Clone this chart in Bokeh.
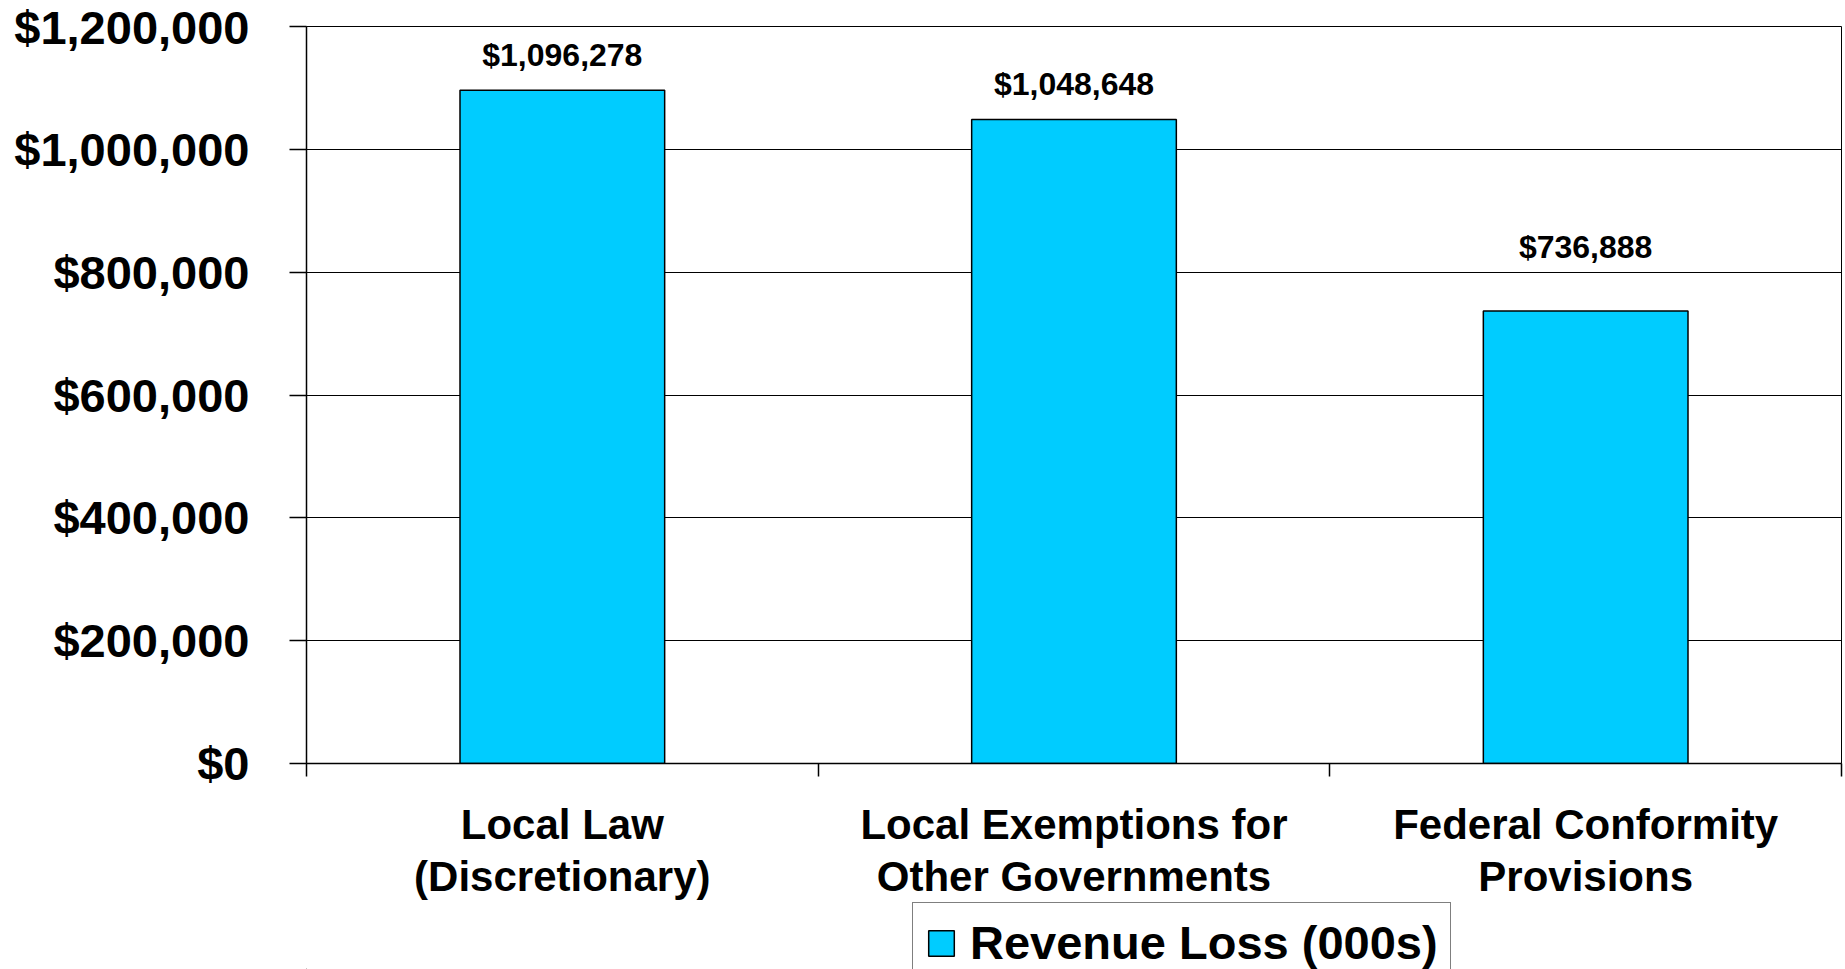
from bokeh.plotting import figure
from bokeh.layouts import column
from bokeh.models import ColumnDataSource, FixedTicker, Legend, LegendItem, Range1d
from bokeh.embed import file_html
from bokeh.resources import INLINE
from bokeh.core.properties import value

categories = ["Local Law\n(Discretionary)", "Local Exemptions for\nOther Governments", "Federal Conformity\nProvisions"]
revenue_loss = [1096278, 1048648, 736888]
value_labels = ["$1,096,278", "$1,048,648", "$736,888"]
label_offsets = [-35, -35, -64]
y_ticks = [0, 200000, 400000, 600000, 800000, 1000000, 1200000]
y_tick_labels = ["$0", "$200,000", "$400,000", "$600,000", "$800,000", "$1,000,000", "$1,200,000"]
series_name = "Revenue Loss (000s)"

FONT = "Liberation Sans"
BAR_COLOR = "#00CCFF"

xs = [i + 0.5 for i in range(len(categories))]
src = ColumnDataSource(dict(x=xs, top=revenue_loss, label=value_labels, off=label_offsets))

p = figure(width=1845, height=902, output_backend="svg", toolbar_location=None,
           x_range=Range1d(0, len(categories)), y_range=Range1d(0, 1200000),
           min_border_left=306, min_border_right=4, min_border_top=26, min_border_bottom=136)
p.background_fill_color = "white"
p.border_fill_color = "white"
p.outline_line_color = "black"
p.outline_line_width = 1

bars = p.vbar(x="x", top="top", width=0.4, bottom=0, source=src,
              fill_color=BAR_COLOR, line_color="black", line_width=1.5)

p.text(x="x", y="top", text="label", source=src, y_offset="off",
       text_align="center", text_baseline="middle",
       text_font=value(FONT), text_font_style="bold", text_font_size="32px", text_color="black")

# y axis
p.yaxis.ticker = FixedTicker(ticks=y_ticks)
p.yaxis.major_label_overrides = {t: l for t, l in zip(y_ticks, y_tick_labels)}
p.yaxis.major_label_text_font = FONT
p.yaxis.major_label_text_font_style = "bold"
p.yaxis.major_label_text_font_size = "47px"
p.yaxis.major_label_text_color = "black"
p.yaxis.major_label_standoff = 40
p.yaxis.major_tick_out = 17
p.yaxis.major_tick_in = 0
p.yaxis.minor_tick_line_color = None
p.yaxis.axis_line_color = "black"
p.yaxis.axis_line_width = 1.5
p.yaxis.major_tick_line_width = 1.5

# x axis
p.xaxis.ticker = FixedTicker(ticks=xs, minor_ticks=list(range(len(categories) + 1)))
p.xaxis.major_label_overrides = {x: c for x, c in zip(xs, categories)}
p.xaxis.major_label_text_font = FONT
p.xaxis.major_label_text_font_style = "bold"
p.xaxis.major_label_text_font_size = "42px"
p.xaxis.major_label_text_color = "black"
p.xaxis.major_label_text_line_height = 1.11
p.xaxis.major_label_standoff = 24
p.xaxis.major_tick_out = 0
p.xaxis.major_tick_in = 0
p.xaxis.minor_tick_out = 13
p.xaxis.minor_tick_in = 0
p.xaxis.minor_tick_line_width = 1.5
p.xaxis.axis_line_color = "black"
p.xaxis.axis_line_width = 1.5

p.xgrid.grid_line_color = None
p.ygrid.ticker = FixedTicker(ticks=y_ticks)
p.ygrid.grid_line_color = "black"
p.ygrid.grid_line_width = 1

# legend strip below the chart (same series, ranges far from the data so only the legend shows)
p2 = figure(width=1845, height=67, output_backend="svg", toolbar_location=None,
            x_range=Range1d(100, 103), y_range=Range1d(1e7, 1.1e7),
            x_axis_type=None, y_axis_type=None,
            min_border_left=0, min_border_right=0, min_border_top=0, min_border_bottom=0)
p2.outline_line_color = None
p2.background_fill_color = "white"
p2.border_fill_color = "white"
p2.xgrid.grid_line_color = None
p2.ygrid.grid_line_color = None
swatch = p2.vbar(x="x", top="top", width=0.4, bottom=0, source=src,
                 fill_color=BAR_COLOR, line_color="black", line_width=1.5)

legend = Legend(items=[LegendItem(label=series_name, renderers=[swatch])],
                location=(606, -14), orientation="vertical")
legend.label_text_font = FONT
legend.label_text_font_style = "bold"
legend.label_text_font_size = "47px"
legend.label_text_color = "black"
legend.glyph_width = 32
legend.glyph_height = 32
legend.label_standoff = 13
legend.padding = 12
legend.margin = 0
legend.border_line_color = "black"
legend.border_line_width = 1.5
legend.background_fill_color = "white"
legend.background_fill_alpha = 1
p2.add_layout(legend)

layout = column(p, p2, spacing=0)
open("out.html", "w").write(file_html(layout, INLINE))
